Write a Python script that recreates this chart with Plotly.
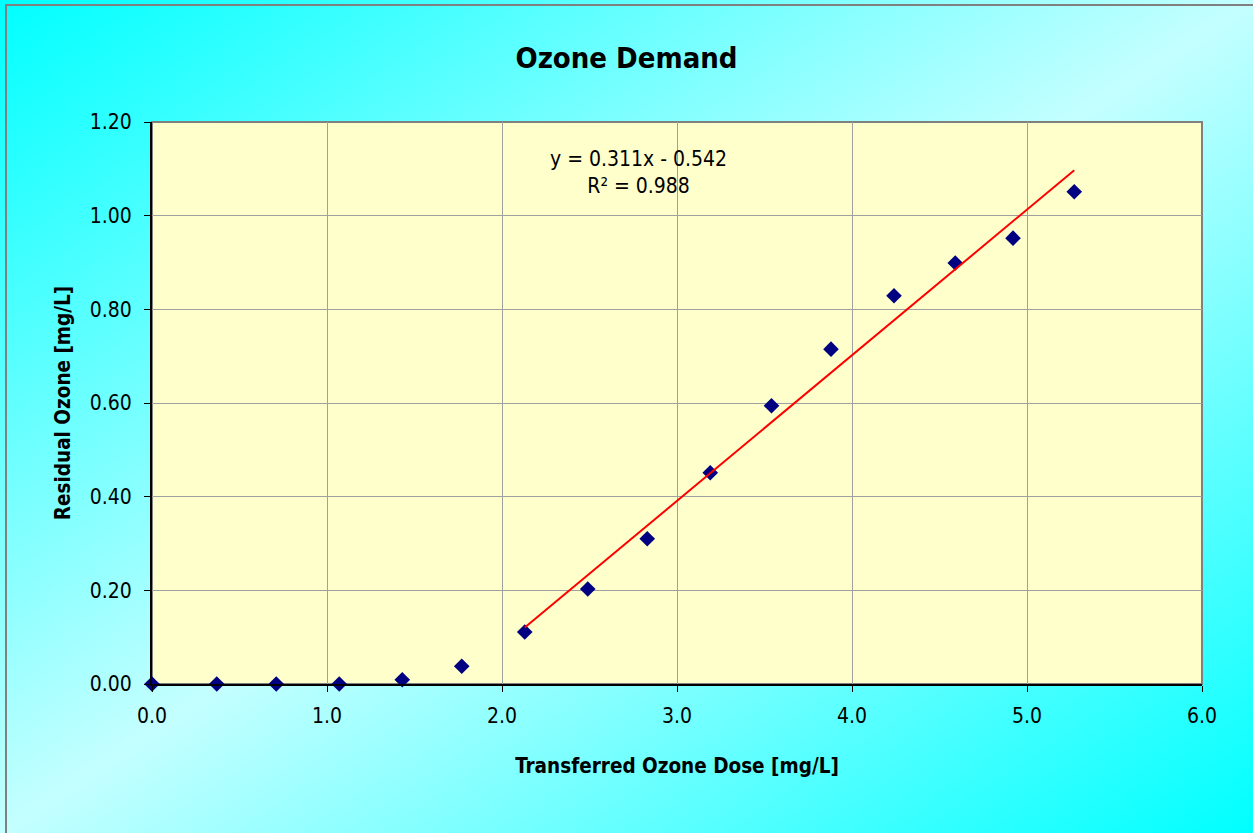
import base64
import plotly.graph_objects as go

# 数据
dose = [0.0, 0.37, 0.71, 1.07, 1.43, 1.77, 2.13, 2.49, 2.83, 3.19, 3.54, 3.88, 4.24, 4.59, 4.92, 5.27]
residual = [0.0, 0.0, 0.0, 0.0, 0.009, 0.038, 0.111, 0.203, 0.310, 0.451, 0.594, 0.715, 0.829, 0.899, 0.952, 1.051]
slope, intercept = 0.311, -0.542
fit_start = 6  # 趋势线从第 7 个点开始
x_ticks = [0, 1, 2, 3, 4, 5, 6]
y_ticks = [0, 0.2, 0.4, 0.6, 0.8, 1.0, 1.2]

W, H = 1253, 833
L, R, T, B = 152, 51, 122, 149
PW, PH = W - L - R, H - T - B
FONT = "Noto Sans Condensed, DejaVu Sans Condensed, sans-serif"

# 背景渐变（青 → 浅青 → 青）
svg = (
    '<svg xmlns="http://www.w3.org/2000/svg" width="100" height="100" preserveAspectRatio="none">'
    '<defs><linearGradient id="g" x1="0" y1="0" x2="1" y2="1">'
    '<stop offset="0" stop-color="#00FFFF"/><stop offset="0.5" stop-color="#C4FFFF"/>'
    '<stop offset="1" stop-color="#00FFFF"/></linearGradient></defs>'
    '<rect width="100" height="100" fill="url(#g)"/></svg>'
)
bg_uri = "data:image/svg+xml;base64," + base64.b64encode(svg.encode()).decode()

fit_x = [dose[fit_start], dose[-1]]
fit_y = [slope * v + intercept for v in fit_x]

fig = go.Figure()
fig.add_trace(go.Scatter(
    x=dose, y=residual, mode="markers", name="data",
    marker=dict(symbol="diamond", size=12, color="#000080"),
    cliponaxis=False,
))
fig.add_trace(go.Scatter(
    x=fit_x, y=fit_y, mode="lines", name="fit",
    line=dict(color="#FF0000", width=2),
))

px_x = lambda p: (p - L) / PW
px_y = lambda p: (H - B - p) / PH

fig.add_layout_image(dict(
    source=bg_uri, xref="paper", yref="paper",
    x=px_x(0), y=px_y(0), sizex=W / PW, sizey=H / PH,
    xanchor="left", yanchor="top", sizing="stretch", layer="below",
))
# 绘图区底色与外框
fig.add_shape(type="rect", xref="paper", yref="paper", x0=0, x1=1, y0=0, y1=1,
              fillcolor="#FFFFCC", line=dict(color="#808080", width=2), layer="below")
# 图表外框
fig.add_shape(type="rect", xref="paper", yref="paper",
              x0=px_x(6), x1=px_x(W + 5), y0=px_y(H + 5), y1=px_y(5),
              line=dict(color="#808080", width=2), layer="below")

fig.add_annotation(
    x=2.78, y=1.092, xref="x", yref="y",
    text="y = 0.311x - 0.542<br>R² = 0.988", showarrow=False,
    font=dict(family=FONT, size=21, color="#000000"), align="center",
)

fig.update_layout(
    width=W, height=H,
    margin=dict(l=L, r=R, t=T, b=B),
    paper_bgcolor="#C4FFFF",
    plot_bgcolor="rgba(0,0,0,0)",
    showlegend=False,
    font=dict(family=FONT, size=21, color="#000000"),
    title=dict(text="<b>Ozone Demand</b>", x=0.5, xanchor="center", y=1 - 58 / H, yanchor="middle",
               font=dict(family=FONT, size=29, color="#000000")),
)
fig.update_xaxes(
    range=[0, 6], tickvals=x_ticks, ticktext=[f"{v:.1f}" for v in x_ticks],
    showgrid=True, gridcolor="#A0A0A0", gridwidth=1, zeroline=False,
    showline=True, linecolor="#000000", linewidth=2,
    ticks="outside", ticklen=6, tickcolor="#000000", ticklabelstandoff=6,
    title=dict(text="<b>Transferred Ozone Dose [mg/L]</b>", standoff=31, font=dict(size=20.5)),
)
fig.update_yaxes(
    range=[0, 1.2], tickvals=y_ticks, ticktext=[f"{v:.2f}" for v in y_ticks],
    showgrid=True, gridcolor="#A0A0A0", gridwidth=1, zeroline=False,
    showline=True, linecolor="#000000", linewidth=2,
    ticks="outside", ticklen=6, tickcolor="#000000", ticklabelstandoff=8,
    title=dict(text="<b>Residual Ozone [mg/L]</b>", standoff=14, font=dict(size=20.5)),
)

fig.write_html("out.html", config={"displayModeBar": False},
               post_script="document.body.style.margin='0';")
